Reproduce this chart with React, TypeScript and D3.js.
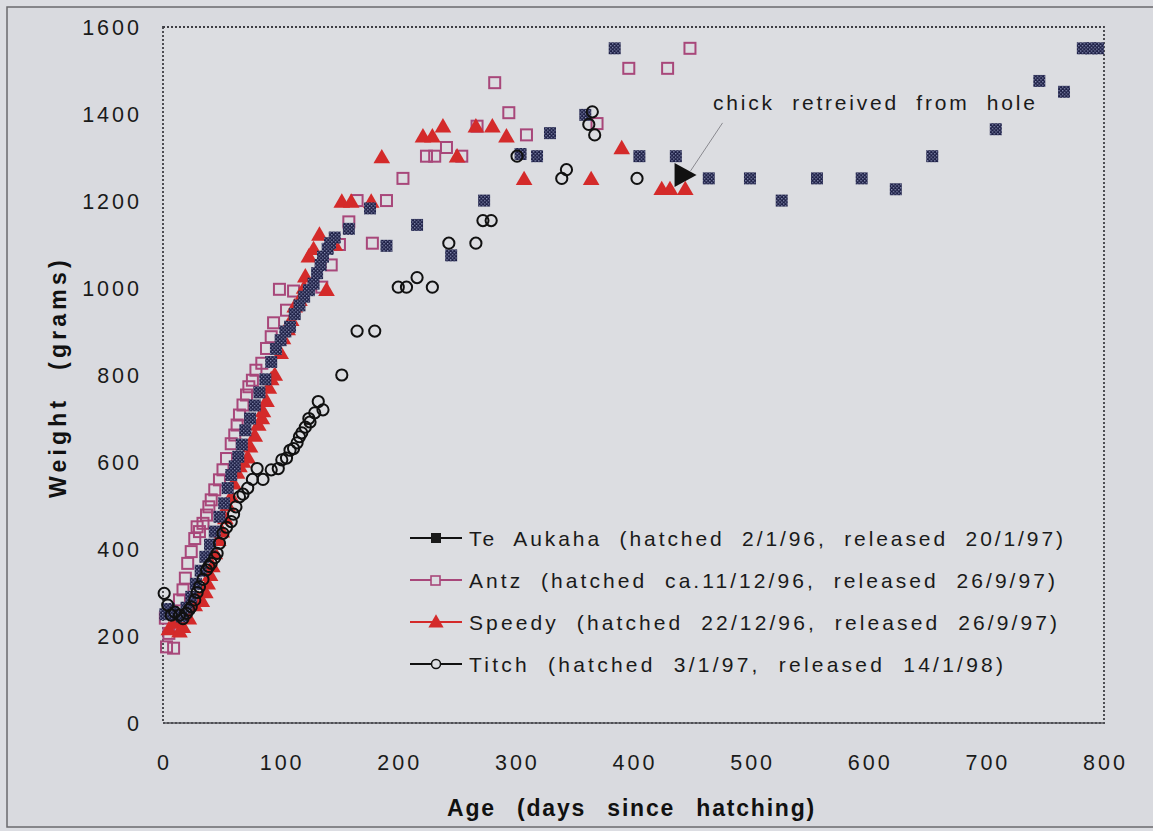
import React from "react";
import * as d3 from "d3";

// ---- data: [age in days, weight in grams] ----
const teAukaha: [number, number][] = [
  [2, 250], [5, 262], [8, 255], [12, 250], [16, 245], [20, 265], [24, 290], [28, 320], [32, 350],
  [36, 382], [40, 410], [44, 440], [48, 474], [52, 505], [55, 540], [58, 570], [61, 590], [64, 612],
  [67, 640], [70, 673], [74, 700], [78, 730], [82, 760], [87, 790], [92, 830], [96, 860], [100, 880],
  [104, 900], [108, 911], [112, 940], [116, 960], [120, 980], [124, 995], [128, 1010], [131, 1034],
  [134, 1053], [136, 1072], [140, 1090], [142, 1103], [146, 1116], [158, 1136], [176, 1183],
  [190, 1097], [216, 1145], [245, 1075], [273, 1201], [304, 1308], [318, 1303], [329, 1356],
  [359, 1398], [384, 1551], [405, 1303], [436, 1303], [464, 1252], [499, 1252], [526, 1201],
  [556, 1252], [594, 1252], [623, 1227], [654, 1303], [708, 1365], [745, 1476], [766, 1451],
  [782, 1551], [789, 1551], [795, 1551],
];

const antz: [number, number][] = [
  [2, 241], [3, 175], [5, 206], [9, 172], [14, 283], [17, 306], [19, 333], [21, 367], [24, 394],
  [27, 424], [29, 451], [31, 440], [34, 459], [37, 478], [39, 497], [41, 513], [44, 536], [48, 559],
  [51, 582], [54, 608], [58, 642], [61, 662], [63, 685], [65, 708], [68, 731], [71, 754], [73, 773],
  [76, 788], [79, 811], [84, 827], [88, 861], [92, 888], [94, 920], [99, 997], [105, 949],
  [111, 993], [135, 1002], [143, 1053], [150, 1100], [158, 1152], [165, 1201], [178, 1103],
  [190, 1201], [204, 1252], [224, 1303], [231, 1303], [241, 1323], [254, 1303], [267, 1372],
  [282, 1472], [294, 1403], [309, 1352], [369, 1378], [396, 1505], [429, 1505], [448, 1551],
];

const speedy: [number, number][] = [
  [5, 215], [10, 230], [14, 210], [17, 220], [22, 240], [27, 270], [30, 285], [33, 280], [36, 300],
  [38, 320], [40, 340], [42, 360], [44, 390], [47, 420], [50, 440], [53, 470], [55, 500], [58, 520],
  [60, 550], [63, 575], [65, 590], [68, 600], [72, 610], [74, 635], [78, 660], [81, 685], [84, 700],
  [85, 716], [88, 740], [90, 770], [92, 790], [95, 800], [100, 850], [102, 884], [106, 905],
  [109, 926], [112, 957], [116, 972], [120, 1000], [121, 1026], [124, 1072], [128, 1089],
  [133, 1122], [139, 995], [146, 1099], [152, 1198], [160, 1198], [177, 1198], [186, 1300],
  [221, 1348], [229, 1348], [238, 1371], [250, 1302], [266, 1371], [280, 1371], [292, 1348],
  [307, 1250], [364, 1250], [390, 1321], [424, 1227], [431, 1227], [444, 1227],
];

const titch: [number, number][] = [
  [1, 298], [4, 271], [7, 248], [10, 255], [14, 248], [17, 240], [20, 252], [22, 260], [24, 267],
  [27, 283], [29, 300], [31, 313], [34, 330], [37, 352], [39, 360], [41, 367], [44, 380], [46, 390],
  [48, 413], [51, 436], [54, 450], [58, 463], [60, 480], [62, 497], [65, 520], [68, 526], [72, 540],
  [76, 560], [80, 585], [85, 560], [92, 582], [98, 585], [101, 605], [105, 609], [108, 627],
  [111, 631], [114, 644], [116, 658], [118, 667], [121, 680], [124, 700], [125, 692], [129, 713],
  [132, 739], [136, 720], [152, 800], [165, 901], [180, 901], [200, 1002], [207, 1002], [216, 1024],
  [229, 1002], [243, 1103], [266, 1103], [272, 1155], [279, 1155], [301, 1303], [339, 1252],
  [343, 1272], [362, 1376], [365, 1405], [367, 1352], [403, 1252],
];

const xTicks = [0, 100, 200, 300, 400, 500, 600, 700, 800];
const yTicks = [0, 200, 400, 600, 800, 1000, 1200, 1400, 1600];

const legendLabels = [
  "Te  Aukaha  (hatched  2/1/96,  released  20/1/97)",
  "Antz  (hatched  ca.11/12/96,  released  26/9/97)",
  "Speedy  (hatched  22/12/96,  released  26/9/97)",
  "Titch  (hatched  3/1/97,  released  14/1/98)",
];
const annotationText = "chick  retreived  from  hole";
const annotationPoint: [number, number] = [440, 1260];

const W = 1153;
const H = 831;
const FONT = "'Liberation Sans', Arial, Helvetica, sans-serif";
const NAVY = "#1d1f45";
const PINK = "#a8477a";
const RED = "#d42a2a";
const PRE = { whiteSpace: "pre" as const };

export default function App() {
  const x = d3.scaleLinear().domain([0, 800]).range([163, 1104]);
  const y = d3.scaleLinear().domain([0, 1600]).range([723, 27]);
  const tri = d3.symbol().type(d3.symbolTriangle).size(120)();
  const triSmall = d3.symbol().type(d3.symbolTriangle).size(100)();

  const legendY = [538, 580, 622, 664];
  const legendWidths = [594, 586, 588, 534];

  const marker = (i: number, cx: number, cy: number) => {
    if (i === 0) return <rect x={cx - 6} y={cy - 6} width={12} height={12} fill="url(#chk)" />;
    if (i === 1)
      return (
        <rect x={cx - 5.5} y={cy - 5.5} width={11} height={11} fill="none" stroke={PINK} strokeWidth={2} />
      );
    if (i === 2) return <path d={tri as string} transform={`translate(${cx},${cy + 1})`} fill={RED} />;
    return <circle cx={cx} cy={cy} r={5.6} fill="none" stroke="#111" strokeWidth={2} />;
  };

  const ax = x(annotationPoint[0]);
  const ay = y(annotationPoint[1]);

  return (
    <svg width={W} height={H} style={{ position: "absolute", left: 0, top: 0 }} fontFamily={FONT}>
      <defs>
        <pattern id="chk" width="3.6" height="3.6" patternUnits="userSpaceOnUse">
          <rect width="3.6" height="3.6" fill={NAVY} />
          <rect x="0" y="0" width="1.3" height="1.3" fill="#8d92b8" />
          <rect x="1.8" y="1.8" width="1.3" height="1.3" fill="#8d92b8" />
        </pattern>
      </defs>
      <rect x={0} y={0} width={W} height={H} fill="#dcdde2" />
      <rect x={7} y={7} width={W} height={H - 11} fill="#d9dadf" stroke="#6a6a6e" strokeWidth={1.5} />

      {/* plot frame */}
      <rect x={x(0)} y={y(1600)} width={x(800) - x(0)} height={y(0) - y(1600)}
        fill="#dcdde1" stroke="#3e3e44" strokeWidth={1.8} strokeDasharray="2 2" />
      <line x1={x(0)} x2={x(800)} y1={y(0)} y2={y(0)} stroke="#55555a" strokeWidth={1.5} />

      {/* tick labels */}
      {yTicks.map((t) => (
        <text key={"y" + t} x={142} y={y(t)} dy="0.36em" textAnchor="end" fontSize={21.5} fill="#1a1a1a"
          letterSpacing={3}>
          {t}
        </text>
      ))}
      {xTicks.map((t) => (
        <text key={"x" + t} x={x(t) + 1.5} y={762} dy="0.36em" textAnchor="middle" fontSize={21.5} fill="#1a1a1a"
          letterSpacing={3}>
          {t}
        </text>
      ))}
      <text x={447} y={816} fontSize={23} fontWeight="bold" fill="#111" letterSpacing={1.8} wordSpacing={13}>
        Age (days since hatching)
      </text>
      <text transform="translate(66,498) rotate(-90)" fontSize={23} fontWeight="bold" fill="#111"
        letterSpacing={4.2} wordSpacing={16}>
        Weight (grams)
      </text>

      {/* series */}
      <g>{antz.map((d, k) => <g key={"a" + k}>{marker(1, x(d[0]), y(d[1]))}</g>)}</g>
      <g>{speedy.map((d, k) => <g key={"s" + k}>{marker(2, x(d[0]), y(d[1]))}</g>)}</g>
      <g>{teAukaha.map((d, k) => <g key={"t" + k}>{marker(0, x(d[0]), y(d[1]))}</g>)}</g>
      <g>{titch.map((d, k) => <g key={"c" + k}>{marker(3, x(d[0]), y(d[1]))}</g>)}</g>

      {/* annotation */}
      <line x1={ax + 42} y1={ay - 52} x2={ax + 10} y2={ay - 4} stroke="#8a8a90" strokeWidth={1} />
      <path d={`M${ax - 6},${ay - 12} L${ax + 16},${ay} L${ax - 6},${ay + 12} Z`} fill="#111" />
      <text x={713} y={110} fontSize={21} fill="#1a1a1a" style={PRE} textLength={322} lengthAdjust="spacing">
        {annotationText}
      </text>

      {/* legend */}
      {legendLabels.map((lab, i) => (
        <g key={"l" + i}>
          <line x1={410} x2={462} y1={legendY[i]} y2={legendY[i]}
            stroke={i === 1 ? PINK : i === 2 ? RED : "#111"} strokeWidth={1.8} />
          {i === 0 ? (
            <rect x={431} y={legendY[i] - 5} width={10} height={10} fill="#1a1a1a" />
          ) : i === 1 ? (
            <rect x={431} y={legendY[i] - 4} width={9} height={9} fill="#dcdde1" stroke={PINK} strokeWidth={1.6} />
          ) : i === 2 ? (
            <path d={triSmall as string} transform={`translate(436,${legendY[i] + 1})`} fill={RED} />
          ) : (
            <circle cx={436} cy={legendY[i]} r={4.5} fill="#dcdde1" stroke="#111" strokeWidth={1.5} />
          )}
          <text x={469} y={legendY[i]} dy="0.36em" fontSize={21} fill="#1a1a1a" style={PRE}
            textLength={legendWidths[i]} lengthAdjust="spacing">
            {lab}
          </text>
        </g>
      ))}
    </svg>
  );
}
